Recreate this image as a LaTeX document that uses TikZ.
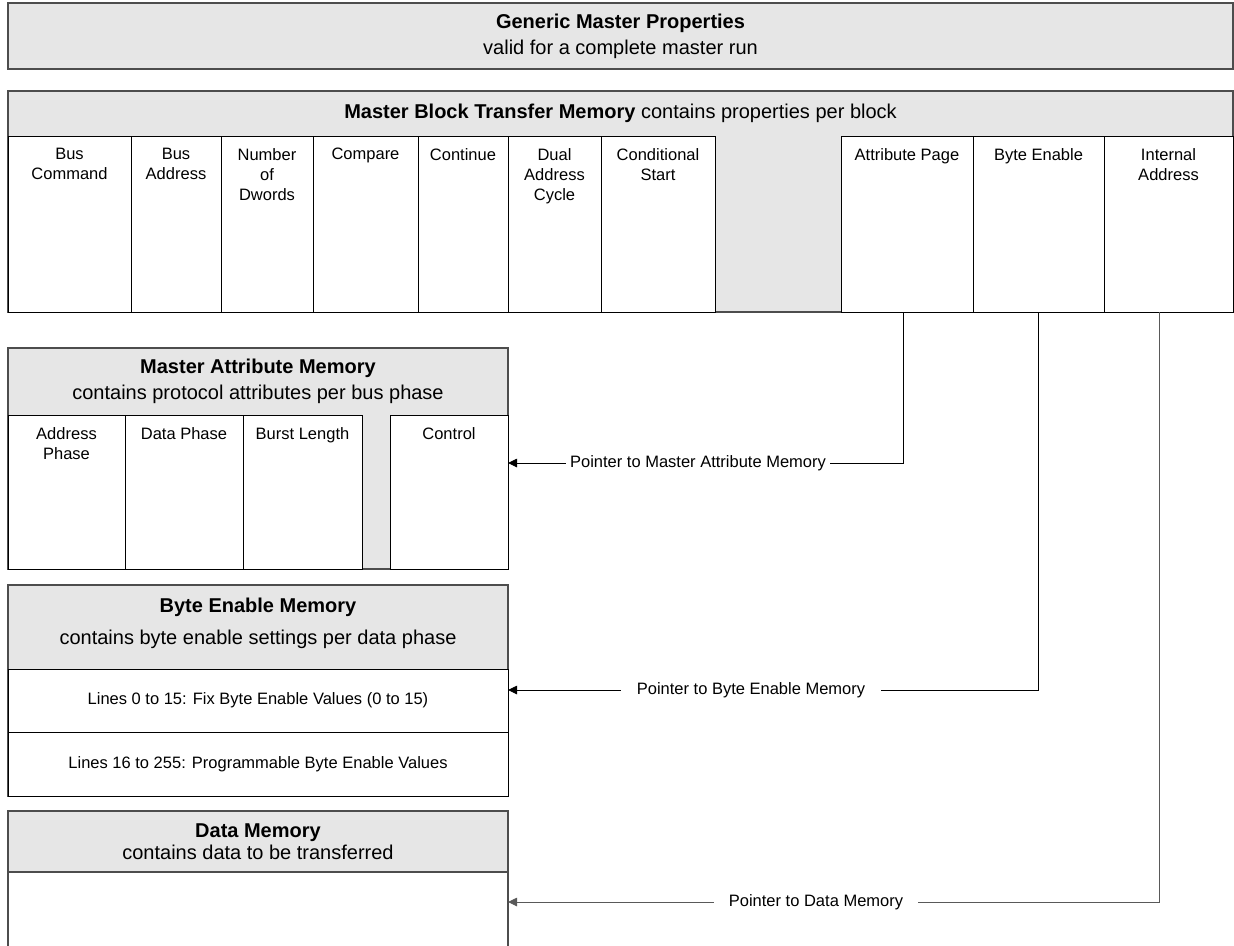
\documentclass[tikz,border=0pt]{standalone}
\usepackage{fontspec}
\setmainfont{Liberation Sans}
\usetikzlibrary{positioning,arrows.meta}
\definecolor{memgray}{HTML}{E6E6E6}
\definecolor{boxline}{HTML}{4D4D4D}
\newcommand{\headtxt}{\fontsize{20}{24}\selectfont}
\newcommand{\celltxt}{\fontsize{16.5}{20}\selectfont}

\begin{document}
\begin{tikzpicture}[x=1pt,y=-1pt,
    membox/.style={draw=boxline,line width=1.3pt,fill=memgray,anchor=north west,inner sep=0pt,outer sep=0pt},
    memhead/.style={anchor=north,align=center,font=\headtxt,inner sep=0pt},
    cell/.style={draw,line width=0.9pt,fill=white,anchor=north west,inner sep=0pt,outer sep=0pt,font=\celltxt},
    celltext/.style={anchor=north,align=center,font=\celltxt,yshift=-10pt,inner sep=2pt},
    pointer/.style={font=\celltxt,inner ysep=2pt},
    ptr/.style={line width=0.9pt},
    tip/.style={ptr,-{Triangle[length=9pt,width=8.5pt]}}]
  \useasboundingbox (0,0) rectangle (1234,945);
  \clip (0,0) rectangle (1234,945);

  % generic properties
  \node[membox,minimum width=1225,minimum height=66,font=\headtxt,align=center] (gen) at (8,3)
    {\textbf{Generic Master Properties}\\[2pt]valid for a complete master run};

  % master block transfer memory
  \node[membox,minimum width=1225,minimum height=221] (mbt) at (8,91) {};
  \node[memhead,minimum height=45] (mbthead) at (mbt.north)
    {\textbf{Master Block Transfer Memory} contains properties per block};
  \node[cell,minimum width=123,minimum height=176,label={[celltext]north:{Bus\\Command}}] (buscmd) at (8,136) {};
  \node[cell,minimum width=90,minimum height=176,label={[celltext]north:{Bus\\Address}},right=0pt of buscmd] (busadr) {};
  \node[cell,minimum width=92,minimum height=176,label={[celltext]north:{Number\\of\\Dwords}},right=0pt of busadr] (ndw) {};
  \node[cell,minimum width=105,minimum height=176,label={[celltext]north:{Compare}},right=0pt of ndw] (cmpr) {};
  \node[cell,minimum width=90,minimum height=176,label={[celltext]north:{Continue}},right=0pt of cmpr] (cont) {};
  \node[cell,minimum width=93,minimum height=176,label={[celltext]north:{Dual\\Address\\Cycle}},right=0pt of cont] (dac) {};
  \node[cell,minimum width=114,minimum height=176,label={[celltext]north:{Conditional\\Start}},right=0pt of dac] (cstart) {};
  \node[cell,minimum width=132,minimum height=176,label={[celltext]north:{Attribute Page}}] (attrpg) at (841,136) {};
  \node[cell,minimum width=131,minimum height=176,label={[celltext]north:{Byte Enable}},right=0pt of attrpg] (byteen) {};
  \node[cell,minimum width=129,minimum height=176,label={[celltext]north:{Internal\\Address}},right=0pt of byteen] (intadr) {};

  % master attribute memory
  \node[membox,minimum width=500,minimum height=221] (mam) at (8,348) {};
  \node[memhead,minimum height=67] (mamhead) at (mam.north)
    {\textbf{Master Attribute Memory}\\[2pt]contains protocol attributes per bus phase};
  \node[cell,minimum width=117,minimum height=154,label={[celltext]north:{Address\\Phase}}] (adrph) at (8,415) {};
  \node[cell,minimum width=118,minimum height=154,label={[celltext]north:{Data Phase}},right=0pt of adrph] (datph) {};
  \node[cell,minimum width=119,minimum height=154,label={[celltext]north:{Burst Length}},right=0pt of datph] (burst) {};
  \node[cell,minimum width=118,minimum height=154,label={[celltext]north:{Control}}] (ctrl) at (390,415) {};

  % byte enable memory
  \node[membox,minimum width=500,minimum height=211] (bem) at (8,585) {};
  \node[memhead,minimum height=84,yshift=4pt] (bemhead) at (bem.north)
    {\textbf{Byte Enable Memory}\\[8pt]contains byte enable settings per data phase};
  \node[cell,minimum width=500,minimum height=63] (fixrow) at (8,669) {Lines 0 to 15: Fix Byte Enable Values (0 to 15)};
  \node[cell,minimum width=500,minimum height=64,below=0pt of fixrow] (progrow) {Lines 16 to 255: Programmable Byte Enable Values};

  % data memory
  \node[membox,minimum width=500,minimum height=200] (dm) at (8,811) {};
  \node[memhead,minimum height=61] (dmhead) at (dm.north)
    {\textbf{Data Memory}\\[-2pt]contains data to be transferred};
  \node[cell,draw=boxline,line width=1.3pt,minimum width=500,minimum height=139] (dmbody) at (8,872) {};

  % pointers
  \node[pointer,inner xsep=4pt] (pmam) at (698,463) {Pointer to Master Attribute Memory};
  \draw[tip] (pmam.west) -- (pmam.west -| ctrl.east);
  \draw[ptr] (pmam.east) -| ([xshift=-4pt]attrpg.south);

  \node[pointer,inner xsep=16pt] (pbem) at (751,690) {Pointer to Byte Enable Memory};
  \draw[tip] (pbem.west) -- (pbem.west -| fixrow.east);
  \draw[ptr] (pbem.east) -| (byteen.south);

  \node[pointer,inner xsep=15pt] (pdm) at (816,902) {Pointer to Data Memory};
  \draw[tip,gray!70!black] (pdm.west) -- (pdm.west -| dmbody.east);
  \draw[ptr,gray!70!black] (pdm.east) -| ([xshift=-9pt]intadr.south);
\end{tikzpicture}
\end{document}
